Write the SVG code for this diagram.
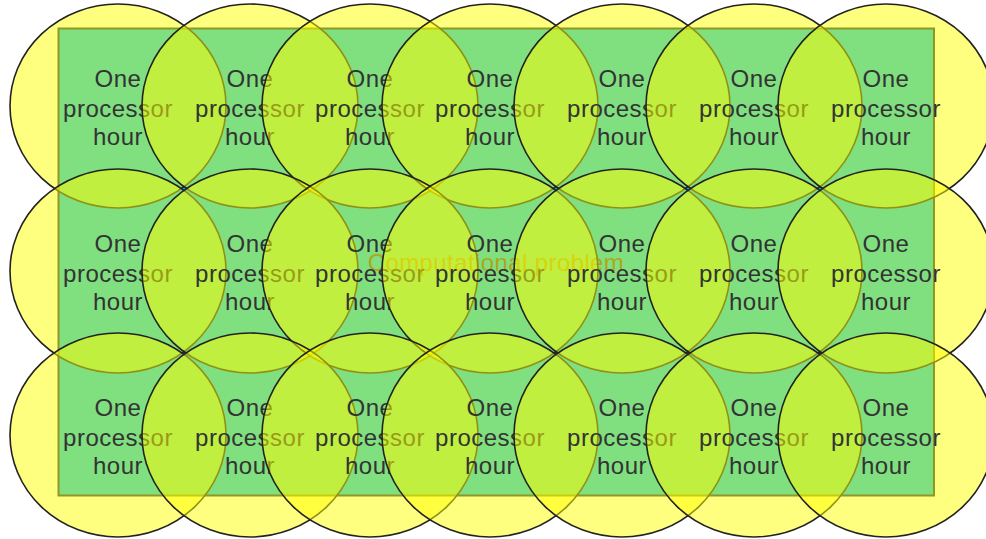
<svg xmlns="http://www.w3.org/2000/svg" width="986" height="539" viewBox="0 0 986 539">
<style>
.e{fill:#ffff00;fill-opacity:0.5;stroke:#222;stroke-width:1.6}
.t{font-family:"Liberation Sans",Arial,sans-serif;font-size:24px;fill:#333;text-anchor:middle;letter-spacing:0.5px}
.pt{font-family:"Liberation Sans",Arial,sans-serif;font-size:24px;fill:#5c4c3c;text-anchor:middle;letter-spacing:0.4px}
</style>
<rect width="986" height="539" fill="#ffffff"/>
<g id="problem">
<rect x="58.5" y="28.5" width="875.5" height="467" fill="#00bfff" stroke="#1e3040" stroke-width="2"/>
<text class="pt" x="496" y="271">Computational problem</text>
</g>
<g id="connectors"/>
<g id="n1-1"><ellipse class="e" cx="118" cy="106" rx="108" ry="102"/><text class="t"><tspan x="118" y="87">One</tspan><tspan x="118" y="116.5">processor</tspan><tspan x="118" y="145">hour</tspan></text></g>
<g id="n1-2"><ellipse class="e" cx="250" cy="106" rx="108" ry="102"/><text class="t"><tspan x="250" y="87">One</tspan><tspan x="250" y="116.5">processor</tspan><tspan x="250" y="145">hour</tspan></text></g>
<g id="n1-3"><ellipse class="e" cx="370" cy="106" rx="108" ry="102"/><text class="t"><tspan x="370" y="87">One</tspan><tspan x="370" y="116.5">processor</tspan><tspan x="370" y="145">hour</tspan></text></g>
<g id="n1-4"><ellipse class="e" cx="490" cy="106" rx="108" ry="102"/><text class="t"><tspan x="490" y="87">One</tspan><tspan x="490" y="116.5">processor</tspan><tspan x="490" y="145">hour</tspan></text></g>
<g id="n1-5"><ellipse class="e" cx="622" cy="106" rx="108" ry="102"/><text class="t"><tspan x="622" y="87">One</tspan><tspan x="622" y="116.5">processor</tspan><tspan x="622" y="145">hour</tspan></text></g>
<g id="n1-6"><ellipse class="e" cx="754" cy="106" rx="108" ry="102"/><text class="t"><tspan x="754" y="87">One</tspan><tspan x="754" y="116.5">processor</tspan><tspan x="754" y="145">hour</tspan></text></g>
<g id="n1-7"><ellipse class="e" cx="886" cy="106" rx="108" ry="102"/><text class="t"><tspan x="886" y="87">One</tspan><tspan x="886" y="116.5">processor</tspan><tspan x="886" y="145">hour</tspan></text></g>
<g id="n2-1"><ellipse class="e" cx="118" cy="271" rx="108" ry="102"/><text class="t"><tspan x="118" y="252">One</tspan><tspan x="118" y="281.5">processor</tspan><tspan x="118" y="310">hour</tspan></text></g>
<g id="n2-2"><ellipse class="e" cx="250" cy="271" rx="108" ry="102"/><text class="t"><tspan x="250" y="252">One</tspan><tspan x="250" y="281.5">processor</tspan><tspan x="250" y="310">hour</tspan></text></g>
<g id="n2-3"><ellipse class="e" cx="370" cy="271" rx="108" ry="102"/><text class="t"><tspan x="370" y="252">One</tspan><tspan x="370" y="281.5">processor</tspan><tspan x="370" y="310">hour</tspan></text></g>
<g id="n2-4"><ellipse class="e" cx="490" cy="271" rx="108" ry="102"/><text class="t"><tspan x="490" y="252">One</tspan><tspan x="490" y="281.5">processor</tspan><tspan x="490" y="310">hour</tspan></text></g>
<g id="n2-5"><ellipse class="e" cx="622" cy="271" rx="108" ry="102"/><text class="t"><tspan x="622" y="252">One</tspan><tspan x="622" y="281.5">processor</tspan><tspan x="622" y="310">hour</tspan></text></g>
<g id="n2-6"><ellipse class="e" cx="754" cy="271" rx="108" ry="102"/><text class="t"><tspan x="754" y="252">One</tspan><tspan x="754" y="281.5">processor</tspan><tspan x="754" y="310">hour</tspan></text></g>
<g id="n2-7"><ellipse class="e" cx="886" cy="271" rx="108" ry="102"/><text class="t"><tspan x="886" y="252">One</tspan><tspan x="886" y="281.5">processor</tspan><tspan x="886" y="310">hour</tspan></text></g>
<g id="n3-1"><ellipse class="e" cx="118" cy="435" rx="108" ry="102"/><text class="t"><tspan x="118" y="416">One</tspan><tspan x="118" y="445.5">processor</tspan><tspan x="118" y="474">hour</tspan></text></g>
<g id="n3-2"><ellipse class="e" cx="250" cy="435" rx="108" ry="102"/><text class="t"><tspan x="250" y="416">One</tspan><tspan x="250" y="445.5">processor</tspan><tspan x="250" y="474">hour</tspan></text></g>
<g id="n3-3"><ellipse class="e" cx="370" cy="435" rx="108" ry="102"/><text class="t"><tspan x="370" y="416">One</tspan><tspan x="370" y="445.5">processor</tspan><tspan x="370" y="474">hour</tspan></text></g>
<g id="n3-4"><ellipse class="e" cx="490" cy="435" rx="108" ry="102"/><text class="t"><tspan x="490" y="416">One</tspan><tspan x="490" y="445.5">processor</tspan><tspan x="490" y="474">hour</tspan></text></g>
<g id="n3-5"><ellipse class="e" cx="622" cy="435" rx="108" ry="102"/><text class="t"><tspan x="622" y="416">One</tspan><tspan x="622" y="445.5">processor</tspan><tspan x="622" y="474">hour</tspan></text></g>
<g id="n3-6"><ellipse class="e" cx="754" cy="435" rx="108" ry="102"/><text class="t"><tspan x="754" y="416">One</tspan><tspan x="754" y="445.5">processor</tspan><tspan x="754" y="474">hour</tspan></text></g>
<g id="n3-7"><ellipse class="e" cx="886" cy="435" rx="108" ry="102"/><text class="t"><tspan x="886" y="416">One</tspan><tspan x="886" y="445.5">processor</tspan><tspan x="886" y="474">hour</tspan></text></g>
</svg>
